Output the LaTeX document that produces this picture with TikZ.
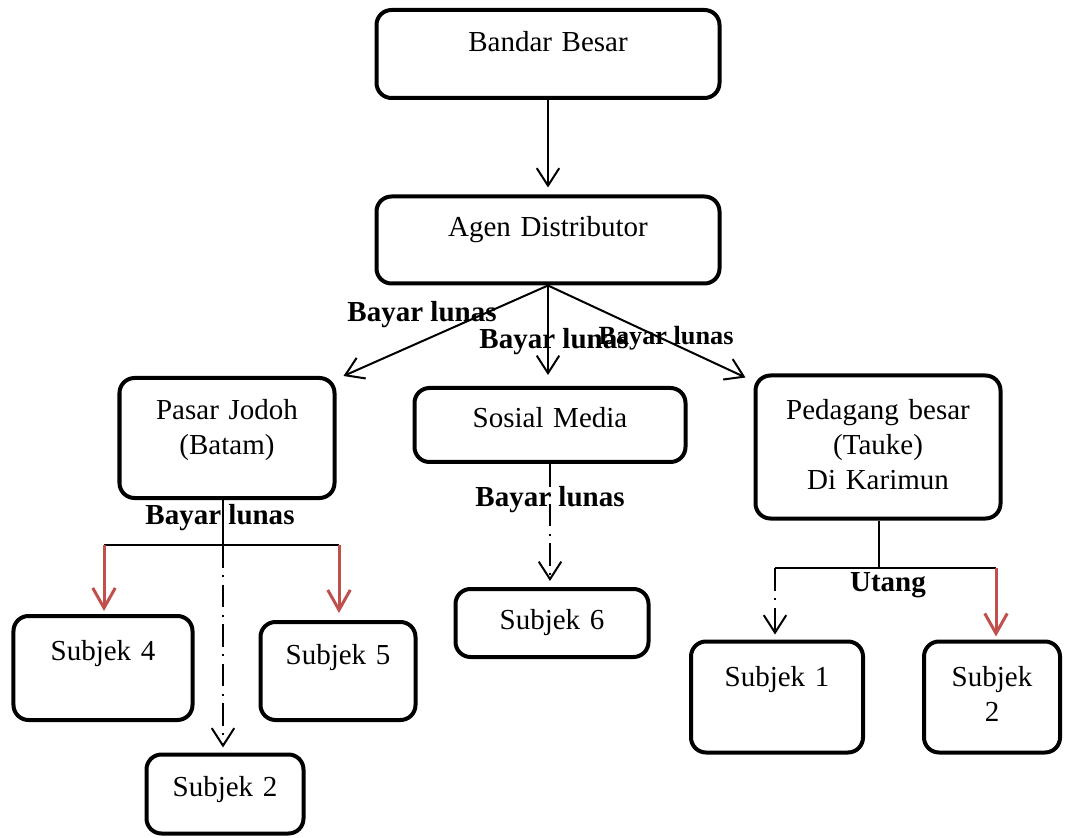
\documentclass[tikz,border=0pt]{standalone}
\usepackage{fontspec}
\setmainfont{Liberation Serif}
\usetikzlibrary{arrows.meta, positioning, calc}
\definecolor{arrowred}{RGB}{192,80,77}

\begin{document}
\begin{tikzpicture}[x=0.4pt, y=-0.4pt, thick]
    \tikzstyle{box} = [rectangle, draw, line width=1.6pt, rounded corners=6pt, inner sep=0pt, align=center, text height=8pt, font=\fontsize{11.6}{14}\selectfont]
    \tikzstyle{link} = [draw, -{Straight Barb[length=7pt, width=9pt]}, line width=0.8pt]
    \tikzstyle{redlink} = [draw, -{Straight Barb[length=8pt, width=9pt]}, line width=1.2pt, arrowred]
    \tikzstyle{ddlink} = [link, dash pattern=on 9pt off 3pt on 0.8pt off 3pt]
    \tikzstyle{tag} = [font=\fontsize{11.6}{14}\selectfont\bfseries, inner sep=1pt]

    \useasboundingbox (0,0) rectangle (1066,838);

    % Nodes
    \node [box, text width=137.2pt, minimum height=35.2pt, text depth=9.6pt] (bandar) at (548,54) {Bandar Besar};
    \node [box, text width=137.2pt, minimum height=34.8pt, text depth=10.8pt] (agen) at (548,240) {Agen Distributor};
    \node [box, text width=86pt, minimum height=48pt, text depth=22.4pt] (pasar) at (227,438) {Pasar Jodoh\\(Batam)};
    \node [box, text width=108.4pt, minimum height=29.6pt, text depth=5.6pt] (sosial) at (550,425) {Sosial Media};
    \node [box, text width=98pt, minimum height=57.2pt, text depth=30pt] (pedagang) at (878,447) {Pedagang besar\\(Tauke)\\Di Karimun};
    \node [box, text width=71.6pt, minimum height=41.6pt, text depth=14.4pt] (subjek4) at (103,668) {Subjek 4};
    \node [box, text width=62pt, minimum height=39.2pt, text depth=13.6pt] (subjek5) at (338,671) {Subjek 5};
    \node [box, text width=62.8pt, minimum height=31.6pt, text depth=6pt] (subjekb) at (225,794) {Subjek 2};
    \node [box, text width=77.2pt, minimum height=27.2pt, text depth=3.2pt] (subjek6) at (552,623) {Subjek 6};
    \node [box, text width=68.8pt, minimum height=44.4pt, text depth=16.4pt] (subjek1) at (777,697) {Subjek 1};
    \node [box, text width=54.4pt, minimum height=44.4pt, text depth=16.4pt] (subjekc) at (992,697) {Subjek\\2};

    % Branch points
    \coordinate (pjmid) at (223,545);
    \coordinate (pjleft) at (104,545);
    \coordinate (pjright) at (339,545);
    \coordinate (pgmid) at (879,568);
    \coordinate (pgleft) at (775,568);
    \coordinate (pgright) at (996,568);

    % Connections
    \path [link, shorten >=2.8pt] (bandar) -- (agen);
    \path [link] (agen.south) -- ($(pasar.north east)+(7,0)$);
    \path [link, shorten >=4.4pt] (agen.south) -- (agen.south |- sosial.north);
    \path [link] (agen.south) -- ($(pedagang.north west)+(-8,4)$);

    \draw (pjmid |- pasar.south) -- (pjmid);
    \draw (pjleft) -- (pjright);
    \path [redlink, shorten >=1.2pt] (pjleft) -- (pjleft |- subjek4.north);
    \path [redlink, shorten >=2.8pt] (pjright) -- (pjright |- subjek5.north);
    \path [ddlink, shorten >=2pt] (pjmid) -- (pjmid |- subjekb.north);

    \path [ddlink, shorten >=2.4pt] (sosial.south) -- (sosial.south |- subjek6.north);

    \draw (pgmid |- pedagang.south) -- (pgmid);
    \draw (pgleft) -- (pgright);
    \path [ddlink, shorten >=2pt] (pgleft) -- (pgleft |- subjek1.north);
    \path [redlink, shorten >=1.2pt] (pgright) -- (pgright |- subjekc.north);

    % Labels
    \node [tag] (lbl1) at (422,315) {Bayar lunas};
    \node [tag] (lbl2) at (554,342) {Bayar lunas};
    \node [tag, font=\fontsize{10.5}{12}\selectfont\bfseries] (lbl3) at (666,338) {Bayar lunas};
    \node [tag] (lbl4) at (220,518) {Bayar lunas};
    \node [tag] (lbl5) at (550,500) {Bayar lunas};
    \node [tag] (lbl6) at (888,585) {Utang};
\end{tikzpicture}
\end{document}
